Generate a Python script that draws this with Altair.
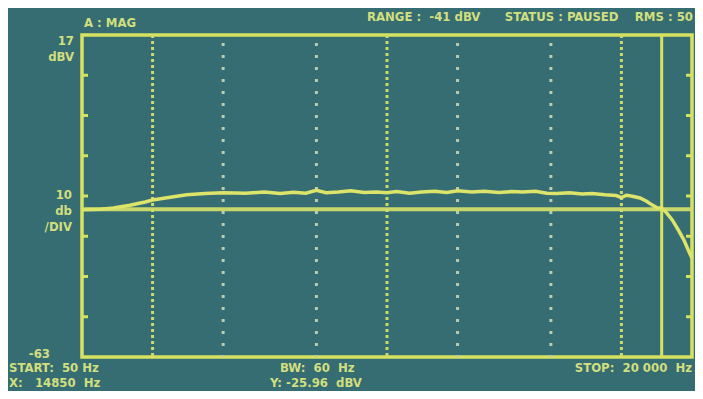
import altair as alt
import pandas as pd

# Trace (frequency in Hz, level in dBV)
freq = [50, 60, 68, 80, 93, 100, 119, 140, 167, 200, 250, 300, 350, 400, 450, 500,
        550, 620, 700, 800, 900, 1000, 1100, 1250, 1400, 1600, 1800, 2000, 2300, 2600,
        3000, 3400, 3800, 4300, 4800, 5300, 6000, 6800, 7500, 8500, 9500, 10000, 10500,
        11000, 12000, 12800, 13500, 14200, 14850, 15500, 16500, 17500, 18500, 19300, 20000]
level = [-26.4, -26.3, -26.0, -25.3, -24.5, -24.0, -23.3, -22.7, -22.4, -22.2, -22.3, -22.0,
         -22.4, -22.1, -22.3, -21.6, -22.2, -22.0, -21.7, -22.1, -22.0, -22.2, -21.9, -22.3,
         -22.0, -21.8, -22.1, -21.7, -22.0, -21.8, -22.1, -21.9, -22.0, -21.8, -22.3, -22.4,
         -22.2, -22.5, -22.4, -22.7, -22.9, -23.4, -22.8, -23.0, -23.5, -24.3, -25.2, -25.9,
         -26.0, -27.0, -29.0, -31.5, -34.0, -36.5, -38.5]

grid_dense = [100, 1000, 10000]
grid_sparse = [200, 500, 2000, 5000]
divisions = [7, -3, -13, -23, -33, -43, -53]
cursor_x = [14850]
ref_level = [-26.3]

F_MIN, F_MAX = 50, 20000
Y_MIN, Y_MAX = -63, 17

W, H = 610, 322
BG = "#366d73"
YEL = "#d6e262"
TXT = "#d2df7e"
FONT = "DejaVu Sans Condensed, Liberation Sans, sans-serif"
S = "\u00a0"  # non-breaking space keeps the screen's wide gaps

xs = alt.Scale(type="log", domain=[F_MIN, F_MAX], nice=False)
ys = alt.Scale(domain=[Y_MIN, Y_MAX], nice=False, zero=False)

trace_df = pd.DataFrame({"f": freq, "db": level})

dense = alt.Chart(pd.DataFrame({"f": grid_dense})).mark_rule(
    color="#cdd96a", strokeWidth=3, strokeDash=[3, 3]
).encode(x=alt.X("f:Q", scale=xs, axis=None))

sparse = alt.Chart(pd.DataFrame({"f": grid_sparse})).mark_rule(
    color="#bccbab", strokeWidth=3, strokeDash=[3, 9], strokeDashOffset=4
).encode(x=alt.X("f:Q", scale=xs, axis=None))

ticks_l = alt.Chart(pd.DataFrame({"d": divisions})).mark_rule(
    color=YEL, strokeWidth=3
).encode(y=alt.Y("d:Q", scale=ys, axis=None), x=alt.value(0), x2=alt.value(6))

ticks_r = alt.Chart(pd.DataFrame({"d": divisions})).mark_rule(
    color=YEL, strokeWidth=3
).encode(y=alt.Y("d:Q", scale=ys, axis=None), x=alt.value(W - 6), x2=alt.value(W))

ref = alt.Chart(pd.DataFrame({"d": ref_level})).mark_rule(
    color="#d0dd6a", strokeWidth=4, opacity=0.95
).encode(y=alt.Y("d:Q", scale=ys, axis=None))

cursor = alt.Chart(pd.DataFrame({"f": cursor_x})).mark_rule(
    color=YEL, strokeWidth=3
).encode(x=alt.X("f:Q", scale=xs, axis=None))

trace = alt.Chart(trace_df).mark_line(color="#dce46a", strokeWidth=3.5).encode(
    x=alt.X("f:Q", scale=xs, axis=None),
    y=alt.Y("db:Q", scale=ys, axis=None),
)

# text annotations of the analyzer screen (pixel offsets from the plot's top-left)
labels = pd.DataFrame([
    {"t": "A : MAG", "x": 2, "y": -12, "a": "left"},
    {"t": f"RANGE :{S}{S}-41 dBV{S*6}STATUS : PAUSED{S*4}RMS : 50", "x": 611, "y": -18, "a": "right"},
    {"t": "17", "x": -8, "y": 6, "a": "right"},
    {"t": "dBV", "x": -8, "y": 22, "a": "right"},
    {"t": "10", "x": -10, "y": 160, "a": "right"},
    {"t": "db", "x": -10, "y": 176, "a": "right"},
    {"t": "/DIV", "x": -10, "y": 192, "a": "right"},
    {"t": "-63", "x": -32, "y": 319, "a": "right"},
    {"t": f"START:{S}{S}50 Hz", "x": -73, "y": 333, "a": "left"},
    {"t": f"X:{S}{S}{S}14850{S}{S}Hz", "x": -73, "y": 348, "a": "left"},
    {"t": f"BW:{S}{S}60{S}{S}Hz", "x": 198, "y": 333, "a": "left"},
    {"t": f"Y: -25.96{S}{S}dBV", "x": 188, "y": 348, "a": "left"},
    {"t": f"STOP:{S}{S}20 000{S}{S}Hz", "x": 610, "y": 333, "a": "right"},
])

px = alt.Scale(domain=[0, W], nice=False, zero=False)
py = alt.Scale(domain=[H, 0], nice=False, zero=False)

def txt(align):
    d = labels[labels["a"] == align]
    return alt.Chart(d).mark_text(
        align=align, baseline="middle", font=FONT, fontWeight="bold",
        fontSize=13, color=TXT, clip=False
    ).encode(
        text="t:N",
        x=alt.X("x:Q", scale=px, axis=None),
        y=alt.Y("y:Q", scale=py, axis=None),
    )

chart = alt.layer(
    sparse, dense, ticks_l, ticks_r, ref, cursor, trace, txt("left"), txt("right")
).resolve_scale(x="independent", y="independent").properties(
    width=W, height=H, background=BG,
    padding={"left": 74, "top": 27, "right": 3, "bottom": 34},
    autosize=alt.AutoSizeParams(type="none"),
).configure_view(stroke=YEL, strokeWidth=3.5)

chart.save("out.html", embed_options={"renderer": "svg", "actions": False})
